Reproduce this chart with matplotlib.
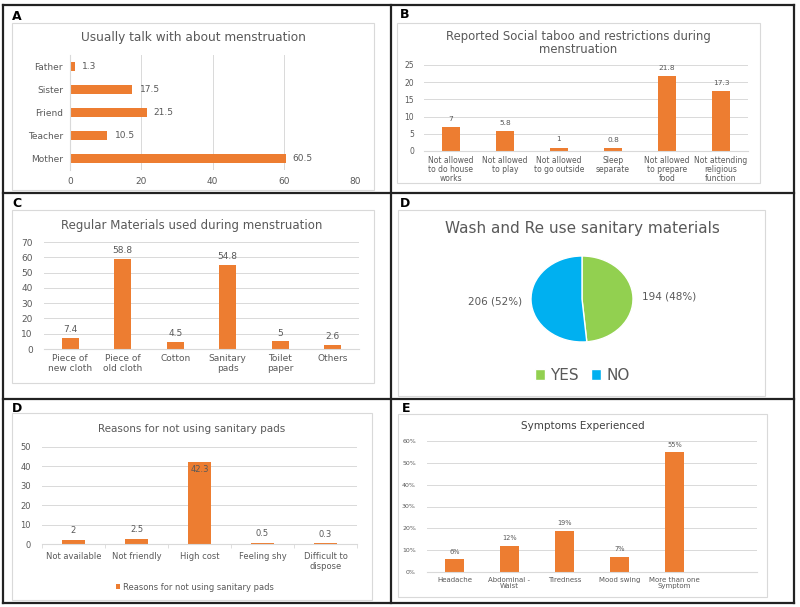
import matplotlib.pyplot as plt
from matplotlib.patches import Rectangle
from matplotlib.lines import Line2D

# --- data ---
talk_cats = ['Mother', 'Teacher', 'Friend', 'Sister', 'Father']
talk_vals = [60.5, 10.5, 21.5, 17.5, 1.3]

taboo_cats = ['Not allowed\nto do house\nworks', 'Not allowed\nto play', 'Not allowed\nto go outside',
              'Sleep\nseparate', 'Not allowed\nto prepare\nfood', 'Not attending\nreligious\nfunction']
taboo_vals = [7, 5.8, 1, 0.8, 21.8, 17.3]

mat_cats = ['Piece of\nnew cloth', 'Piece of\nold cloth', 'Cotton', 'Sanitary\npads', 'Toilet\npaper', 'Others']
mat_vals = [7.4, 58.8, 4.5, 54.8, 5, 2.6]

wash_labels = ['YES', 'NO']
wash_counts = [194, 206]
wash_pct = [48, 52]

reason_cats = ['Not available', 'Not friendly', 'High cost', 'Feeling shy', 'Difficult to\ndispose']
reason_vals = [2, 2.5, 42.3, 0.5, 0.3]

symp_cats = ['Headache', 'Abdominal -\nWaist', 'Tiredness', 'Mood swing', 'More than one\nSymptom']
symp_vals = [6, 12, 19, 7, 55]

ORANGE = '#ed7d31'
GRID = '#d9d9d9'
TXT = '#595959'

W, H = 800, 607
fig = plt.figure(figsize=(W / 100, H / 100), dpi=100)
fig.patch.set_facecolor('white')


def px_axes(l, t, r, b):
    return fig.add_axes([l / W, 1 - b / H, (r - l) / W, (b - t) / H])


def ftext(x, y, s, **kw):
    kw.setdefault('color', TXT)
    kw.setdefault('ha', 'center')
    kw.setdefault('va', 'center')
    return fig.text(x / W, 1 - y / H, s, **kw)


def fbox(l, t, r, b, color=GRID, lw=0.8):
    fig.add_artist(Rectangle((l / W, 1 - b / H), (r - l) / W, (b - t) / H,
                             transform=fig.transFigure, fill=False, edgecolor=color, lw=lw))


def fline(x0, y0, x1, y1):
    fig.add_artist(Line2D([x0 / W, x1 / W], [1 - y0 / H, 1 - y1 / H],
                          transform=fig.transFigure, color='#222222', lw=1.6))


def style_vbar(ax, fs):
    for s in ['top', 'right', 'left']:
        ax.spines[s].set_visible(False)
    ax.spines['bottom'].set_color(GRID)
    ax.grid(axis='y', color=GRID, lw=0.7)
    ax.set_axisbelow(True)
    ax.tick_params(axis='both', length=0, labelsize=fs, colors=TXT)


# panel frames
fline(3, 5, 794, 5)
fline(3, 603, 794, 603)
fline(3, 5, 3, 603)
fline(794, 5, 794, 603)
fline(391, 5, 391, 603)
fline(3, 193, 794, 193)
fline(3, 399, 794, 399)

for lab, x, y in [('A', 12, 17), ('B', 400, 15), ('C', 12, 203), ('D', 400, 203), ('D', 12, 408), ('E', 402, 408)]:
    ftext(x, y, lab, color='black', ha='left', fontsize=9, fontweight='bold')

# --- A: horizontal bars ---
fbox(12, 23, 374, 190)
ftext(193, 37, 'Usually talk with about menstruation', fontsize=8.7)
ax = px_axes(70, 55, 355, 170)
ax.barh(range(len(talk_cats)), talk_vals, height=0.4, color=ORANGE)
ax.set_yticks(range(len(talk_cats)), talk_cats)
ax.set_xlim(0, 80)
ax.set_ylim(-0.5, 4.5)
ax.set_xticks([0, 20, 40, 60, 80])
for s in ['top', 'right', 'bottom']:
    ax.spines[s].set_visible(False)
ax.spines['left'].set_color(GRID)
ax.grid(axis='x', color=GRID, lw=0.7)
ax.set_axisbelow(True)
ax.tick_params(axis='both', length=0, labelsize=6.5, colors=TXT, pad=5)
for i, v in enumerate(talk_vals):
    ax.text(v + 2, i, f'{v:g}', va='center', ha='left', fontsize=6.5, color=TXT)

# --- B: social taboo ---
fbox(397, 23, 760, 183)
ftext(578, 43, 'Reported Social taboo and restrictions during\nmenstruation', fontsize=8.4, linespacing=1.05)
ax = px_axes(424, 65, 748, 151)
ax.bar(range(len(taboo_cats)), taboo_vals, width=0.32, color=ORANGE)
ax.set_xticks(range(len(taboo_cats)), taboo_cats, linespacing=1.0)
ax.set_ylim(0, 25)
ax.set_xlim(-0.5, 5.5)
ax.set_yticks(range(0, 26, 5))
style_vbar(ax, 5.5)
ax.tick_params(axis='y', pad=7)
for i, v in enumerate(taboo_vals):
    ax.text(i, v + 1.5, f'{v:g}', ha='center', va='bottom', fontsize=5.3, color=TXT)

# --- C: materials ---
fbox(12, 210, 374, 383)
ftext(192, 225, 'Regular Materials used during menstruation', fontsize=8.5)
ax = px_axes(44, 242, 359, 349)
ax.bar(range(len(mat_cats)), mat_vals, width=0.32, color=ORANGE)
ax.set_xticks(range(len(mat_cats)), mat_cats, linespacing=1.1)
ax.set_ylim(0, 70)
ax.set_xlim(-0.5, 5.5)
ax.set_yticks(range(0, 71, 10))
style_vbar(ax, 6.5)
ax.tick_params(axis='y', pad=8)
for i, v in enumerate(mat_vals):
    ax.text(i, v + 2.5, f'{v:g}', ha='center', va='bottom', fontsize=6.5, color=TXT)

# --- D: pie ---
fbox(398, 210, 765, 396)
ftext(582, 228, 'Wash and Re use sanitary materials', fontsize=11)
ax = px_axes(531, 256, 633, 342)
wedges, texts = ax.pie(wash_counts, colors=['#92d050', '#00b0f0'], startangle=90, counterclock=False,
                       labels=[f'{c} ({p}%)' for c, p in zip(wash_counts, wash_pct)], labeldistance=1.17,
                       wedgeprops=dict(edgecolor='white', lw=1), textprops=dict(fontsize=7.5, color=TXT))
ax.set_aspect('auto')
ax.set_xlim(-1, 1)
ax.set_ylim(-1, 1)
fig.legend(wedges, wash_labels, loc='center', bbox_to_anchor=(582 / W, 1 - 375 / H), ncol=2, frameon=False,
           fontsize=11, labelcolor=TXT, handlelength=0.7, handleheight=0.7, handletextpad=0.3, columnspacing=0.8)

# --- D: reasons ---
fbox(12, 413, 372, 600)
ftext(192, 429, 'Reasons for not using sanitary pads', fontsize=7.5)
ax = px_axes(42, 447, 357, 544)
bars = ax.bar(range(len(reason_cats)), reason_vals, width=0.38, color=ORANGE,
              label='Reasons for not using sanitary pads')
ax.set_xticks(range(len(reason_cats)), reason_cats, linespacing=1.1)
ax.set_ylim(0, 50)
ax.set_xlim(-0.5, 4.5)
ax.set_yticks(range(0, 51, 10))
style_vbar(ax, 6)
ax.tick_params(axis='y', pad=8)
ax.tick_params(axis='x', pad=6)
ax.set_xticks([i + 0.5 for i in range(-1, len(reason_cats))], minor=True)
ax.tick_params(axis='x', which='minor', length=3, color=GRID, labelbottom=False)
for i, v in enumerate(reason_vals):
    if v > 10:
        ax.text(i, v - 1.5, f'{v:g}', ha='center', va='top', fontsize=6, color=TXT)
    else:
        ax.text(i, v + 2.5, f'{v:g}', ha='center', va='bottom', fontsize=6, color=TXT)
fig.legend(handles=[bars], loc='center', bbox_to_anchor=(195 / W, 1 - 587 / H), frameon=False,
           fontsize=6, labelcolor=TXT, handlelength=0.4, handleheight=0.4, handletextpad=0.4)

# --- E: symptoms ---
fbox(398, 414, 767, 597)
ftext(583, 426, 'Symptoms Experienced', fontsize=7.5, color='#404040')
ax = px_axes(427, 441, 757, 572)
ax.bar(range(len(symp_cats)), symp_vals, width=0.33, color=ORANGE)
ax.set_xticks(range(len(symp_cats)), symp_cats, linespacing=1.1)
ax.set_ylim(0, 60)
ax.set_xlim(-0.5, 5.5)
ax.set_yticks(range(0, 61, 10), [f'{t}%' for t in range(0, 61, 10)])
style_vbar(ax, 4.5)
ax.tick_params(axis='y', pad=8)
ax.tick_params(axis='x', labelsize=5)
for i, v in enumerate(symp_vals):
    ax.text(i, v + 2, f'{v}%', ha='center', va='bottom', fontsize=4.8, color=TXT)

fig.savefig('out.png', dpi=100)
